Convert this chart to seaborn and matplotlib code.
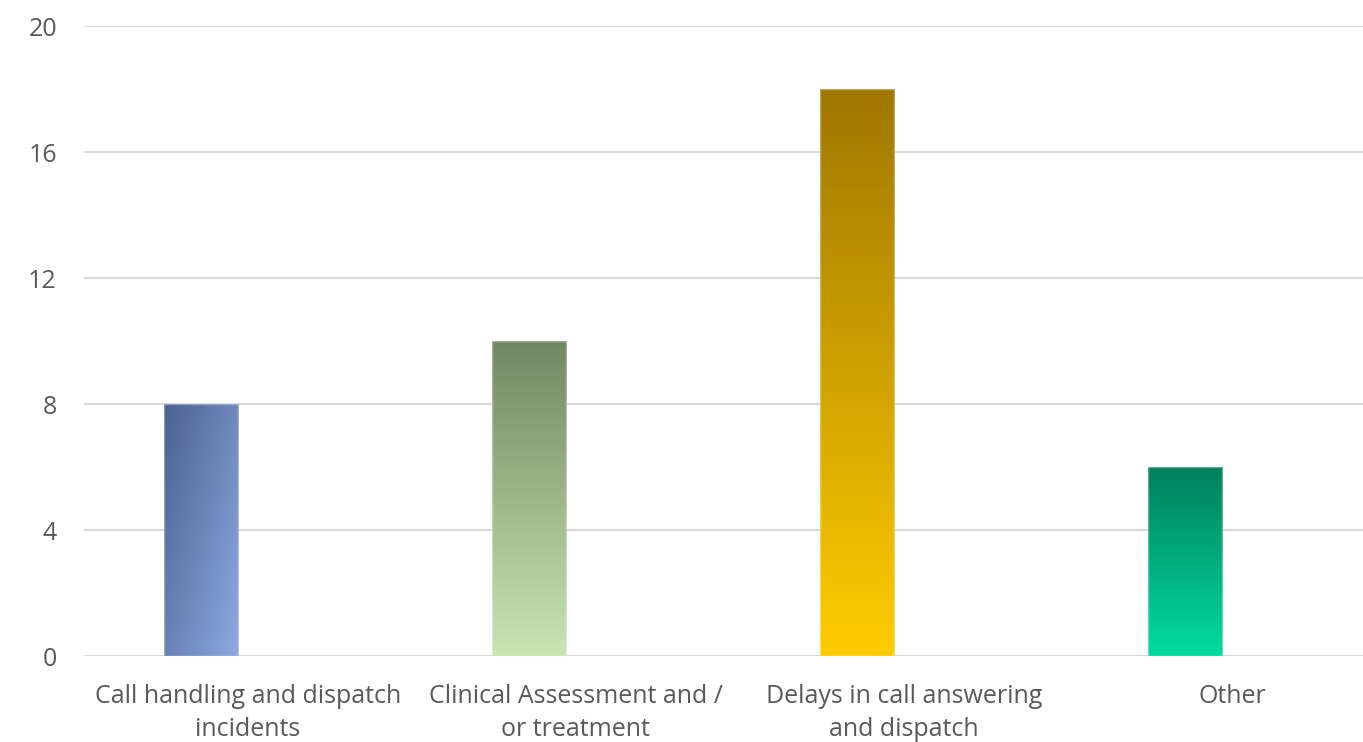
import numpy as np
import pandas as pd
import matplotlib
matplotlib.use("Agg")
import matplotlib.pyplot as plt
from matplotlib.colors import LinearSegmentedColormap
import seaborn as sns

categories = [
    "Call handling and dispatch\nincidents",
    "Clinical Assessment and /\nor treatment",
    "Delays in call answering\nand dispatch",
    "Other",
]
counts = [8, 10, 18, 6]
y_ticks = [0, 4, 8, 12, 16, 20]

# gradient end colours per bar: (top / dark, bottom / light, direction)
gradients = [
    ("#4b6190", "#8eaae2", "diag"),
    ("#718963", "#c8e5b2", "vert"),
    ("#a07700", "#ffcc00", "vert"),
    ("#007f5e", "#00dc9e", "vert"),
]

sns.set_theme(style="white")
plt.rcParams["font.family"] = ["Open Sans", "DejaVu Sans"]

fig = plt.figure(figsize=(13.63, 7.42), dpi=100)
ax = fig.add_axes([84 / 1363, 1 - 656 / 742, 1 - 84 / 1363, 630 / 742])

df = pd.DataFrame({"category": categories, "count": counts})
sns.barplot(data=df, x="category", y="count", ax=ax, width=0.226,
            color="white", saturation=1, zorder=3)

for patch, (c_dark, c_light, mode) in zip(ax.patches, gradients):
    x0, y0 = patch.get_x(), patch.get_y()
    w, h = patch.get_width(), patch.get_height()
    cmap = LinearSegmentedColormap.from_list("g", [c_dark, c_light])
    n = 200
    if mode == "diag":
        yy, xx = np.mgrid[0:1:n * 1j, 0:1:n * 1j]
        grid = 0.55 * xx + 0.45 * yy
    else:
        grid = np.tile(np.linspace(0, 1, n)[:, None], (1, 2))
    im = ax.imshow(grid, cmap=cmap, vmin=0, vmax=1, origin="upper",
                   extent=[x0, x0 + w, y0, y0 + h], aspect="auto",
                   interpolation="bilinear", zorder=3)
    im.set_clip_path(patch)
    patch.set_facecolor("none")
    patch.set_edgecolor((1, 1, 1, 0.35))
    patch.set_linewidth(1.0)
    patch.set_zorder(4)

# category labels sit at the centre of each slot; bars are shifted left of it
label_shift = 0.143
ax.set_xticks(np.arange(len(categories)) + label_shift, categories)

ax.set_xlim(-(201 - 84) / 328, 3 + (1363 - 1185) / 328)
ax.set_ylim(0, 20)
ax.set_yticks(y_ticks)
ax.yaxis.grid(True, color="#d9d9d9", linewidth=1.5, zorder=0)
ax.set_axisbelow(True)
for s in ax.spines.values():
    s.set_visible(False)
ax.tick_params(axis="both", length=0, labelsize=18, colors="#595959")
ax.tick_params(axis="y", pad=19.5)
ax.tick_params(axis="x", pad=20)
for lbl in ax.get_xticklabels():
    lbl.set_linespacing(1.45)
ax.set_xlabel("")
ax.set_ylabel("")

fig.savefig("out.png", dpi=100)
